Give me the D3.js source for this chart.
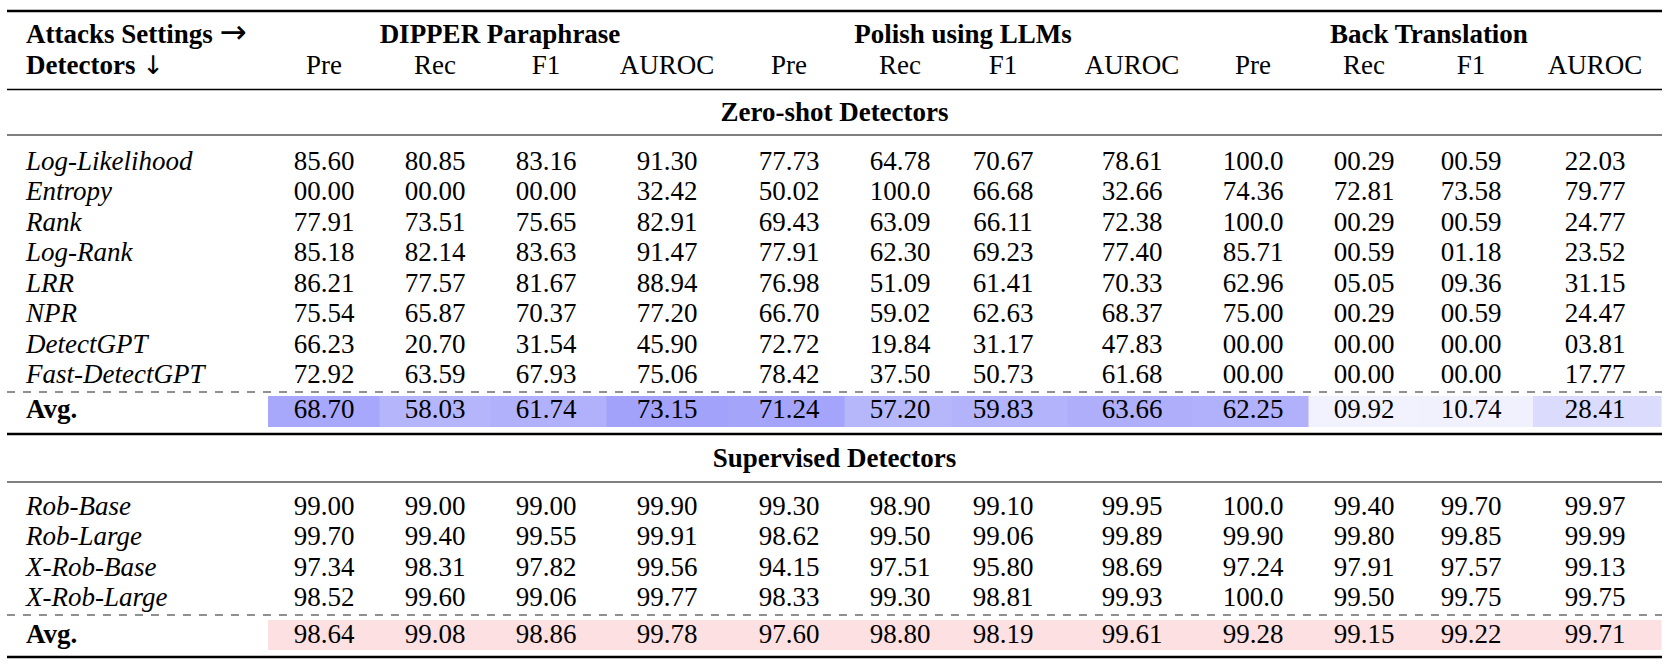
<!DOCTYPE html>
<html>
<head>
<meta charset="utf-8">
<script src="https://cdn.jsdelivr.net/npm/d3@7"></script>
<style>
  html, body { margin: 0; padding: 0; background: #ffffff; }
  svg { display: block; }
  text { font-family: "Liberation Serif", "Times New Roman", serif; fill: #000; }
</style>
</head>
<body>
<svg id="chart" width="1671" height="667"></svg>
<script>
// ---------------- DATA ----------------
const attackGroups = ["DIPPER Paraphrase", "Polish using LLMs", "Back Translation"];
const metrics = ["Pre", "Rec", "F1", "AUROC"];
const cornerLabels = [["Attacks Settings ", "\u2192"], ["Detectors ", "\u2193"]];
const sectionTitles = ["Zero-shot Detectors", "Supervised Detectors"];

const zeroShotDetectors = ["Log-Likelihood", "Entropy", "Rank", "Log-Rank", "LRR", "NPR", "DetectGPT", "Fast-DetectGPT"];
const zeroShotValues = [
  ["85.60","80.85","83.16","91.30","77.73","64.78","70.67","78.61","100.0","00.29","00.59","22.03"],
  ["00.00","00.00","00.00","32.42","50.02","100.0","66.68","32.66","74.36","72.81","73.58","79.77"],
  ["77.91","73.51","75.65","82.91","69.43","63.09","66.11","72.38","100.0","00.29","00.59","24.77"],
  ["85.18","82.14","83.63","91.47","77.91","62.30","69.23","77.40","85.71","00.59","01.18","23.52"],
  ["86.21","77.57","81.67","88.94","76.98","51.09","61.41","70.33","62.96","05.05","09.36","31.15"],
  ["75.54","65.87","70.37","77.20","66.70","59.02","62.63","68.37","75.00","00.29","00.59","24.47"],
  ["66.23","20.70","31.54","45.90","72.72","19.84","31.17","47.83","00.00","00.00","00.00","03.81"],
  ["72.92","63.59","67.93","75.06","78.42","37.50","50.73","61.68","00.00","00.00","00.00","17.77"]
];
const zeroShotAvg = ["68.70","58.03","61.74","73.15","71.24","57.20","59.83","63.66","62.25","09.92","10.74","28.41"];

const supervisedDetectors = ["Rob-Base", "Rob-Large", "X-Rob-Base", "X-Rob-Large"];
const supervisedValues = [
  ["99.00","99.00","99.00","99.90","99.30","98.90","99.10","99.95","100.0","99.40","99.70","99.97"],
  ["99.70","99.40","99.55","99.91","98.62","99.50","99.06","99.89","99.90","99.80","99.85","99.99"],
  ["97.34","98.31","97.82","99.56","94.15","97.51","95.80","98.69","97.24","97.91","97.57","99.13"],
  ["98.52","99.60","99.06","99.77","98.33","99.30","98.81","99.93","100.0","99.50","99.75","99.75"]
];
const supervisedAvg = ["98.64","99.08","98.86","99.78","97.60","98.80","98.19","99.61","99.28","99.15","99.22","99.71"];
const avgLabel = "Avg.";

// ---------------- LAYOUT ----------------
const W = 1671, H = 667;
const FS = 27;
const left = 7, right = 1662, labelX = 26;
const colCenters = [324, 435, 546, 667, 789, 900, 1003, 1132, 1253, 1364, 1471, 1595];
const groupCenters = [500, 963, 1429];
const cellLeft = 268, cellRight = 1661;
const baseOff = 9; // text center -> baseline

const svg = d3.select("#chart");
svg.append("rect").attr("width", W).attr("height", H).attr("fill", "#fff");

const nCols = colCenters.length;
const x = d3.scaleOrdinal().domain(d3.range(nCols)).range(colCenters);
const bounds = d3.range(nCols + 1).map(i => i === 0 ? cellLeft : (i === nCols ? cellRight : (x(i - 1) + x(i)) / 2));

const yZero = d3.scaleLinear().domain([0, zeroShotDetectors.length - 1]).range([161, 374]);
const ySup = d3.scaleLinear().domain([0, supervisedDetectors.length - 1]).range([506, 597]);

function rule(y, w, dash) {
  const l = svg.append("line").attr("x1", left).attr("x2", right).attr("y1", y).attr("y2", y)
    .attr("stroke", "#000").attr("stroke-width", w);
  if (dash) l.attr("stroke-dasharray", dash).attr("stroke", "#222");
}

// ---- header ----
const arrowSizes = [FS * 1.2, FS * 0.95];
[34, 65].forEach((cy, k) => {
  const t = svg.append("text").attr("x", labelX).attr("y", cy + baseOff).attr("font-size", FS);
  t.append("tspan").attr("font-weight", "bold").text(cornerLabels[k][0]);
  t.append("tspan").attr("font-family", "DejaVu Sans").attr("font-weight", "normal")
    .attr("font-size", arrowSizes[k]).text(cornerLabels[k][1]);
});
svg.selectAll("text.grp").data(attackGroups).join("text").attr("class", "grp")
  .attr("x", (d, i) => groupCenters[i]).attr("y", 34 + baseOff)
  .attr("text-anchor", "middle").attr("font-weight", "bold").attr("font-size", FS).text(d => d);
svg.selectAll("text.met").data(d3.range(nCols)).join("text").attr("class", "met")
  .attr("x", i => x(i)).attr("y", 65 + baseOff)
  .attr("text-anchor", "middle").attr("font-size", FS).text(i => metrics[i % 4]);

rule(11, 2.6);
rule(89.5, 1.6);

// ---- sections ----
function section(title, titleY, ruleY, names, vals, yScale, dashY, avgVals, avgY, avgTop, avgBot, colorFn, endRuleY) {
  svg.append("text").attr("x", (left + right) / 2).attr("y", titleY + baseOff)
    .attr("text-anchor", "middle").attr("font-weight", "bold").attr("font-size", FS).text(title);
  rule(ruleY, 1.2);
  const g = svg.append("g");
  names.forEach((n, r) => {
    g.append("text").attr("x", labelX).attr("y", yScale(r) + baseOff).attr("font-style", "italic")
      .attr("font-size", FS).text(n);
    g.selectAll(null).data(vals[r]).join("text")
      .attr("x", (d, i) => x(i)).attr("y", yScale(r) + baseOff)
      .attr("text-anchor", "middle").attr("font-size", FS).text(d => d);
  });
  rule(dashY, 1.2, "8,8");
  svg.selectAll(null).data(avgVals).join("rect")
    .attr("x", (d, i) => bounds[i]).attr("width", (d, i) => bounds[i + 1] - bounds[i] + 0.5)
    .attr("y", avgTop).attr("height", avgBot - avgTop)
    .attr("fill", d => colorFn(+d));
  svg.append("text").attr("x", labelX).attr("y", avgY + baseOff).attr("font-weight", "bold")
    .attr("font-size", FS).text(avgLabel);
  svg.selectAll(null).data(avgVals).join("text")
    .attr("x", (d, i) => x(i)).attr("y", avgY + baseOff)
    .attr("text-anchor", "middle").attr("font-size", FS).text(d => d);
  rule(endRuleY, 2.4);
}

const blueScale = d3.scaleLinear().domain([0, 200]).range(["#ffffff", "#0000f2"]).interpolate(d3.interpolateRgb);
const pinkFill = () => "#fde0e1";

section(sectionTitles[0], 112, 135, zeroShotDetectors, zeroShotValues, yZero, 392, zeroShotAvg, 409, 396, 427, blueScale, 434);
section(sectionTitles[1], 458, 482, supervisedDetectors, supervisedValues, ySup, 615, supervisedAvg, 634, 620, 650, pinkFill, 657);
</script>
</body>
</html>
